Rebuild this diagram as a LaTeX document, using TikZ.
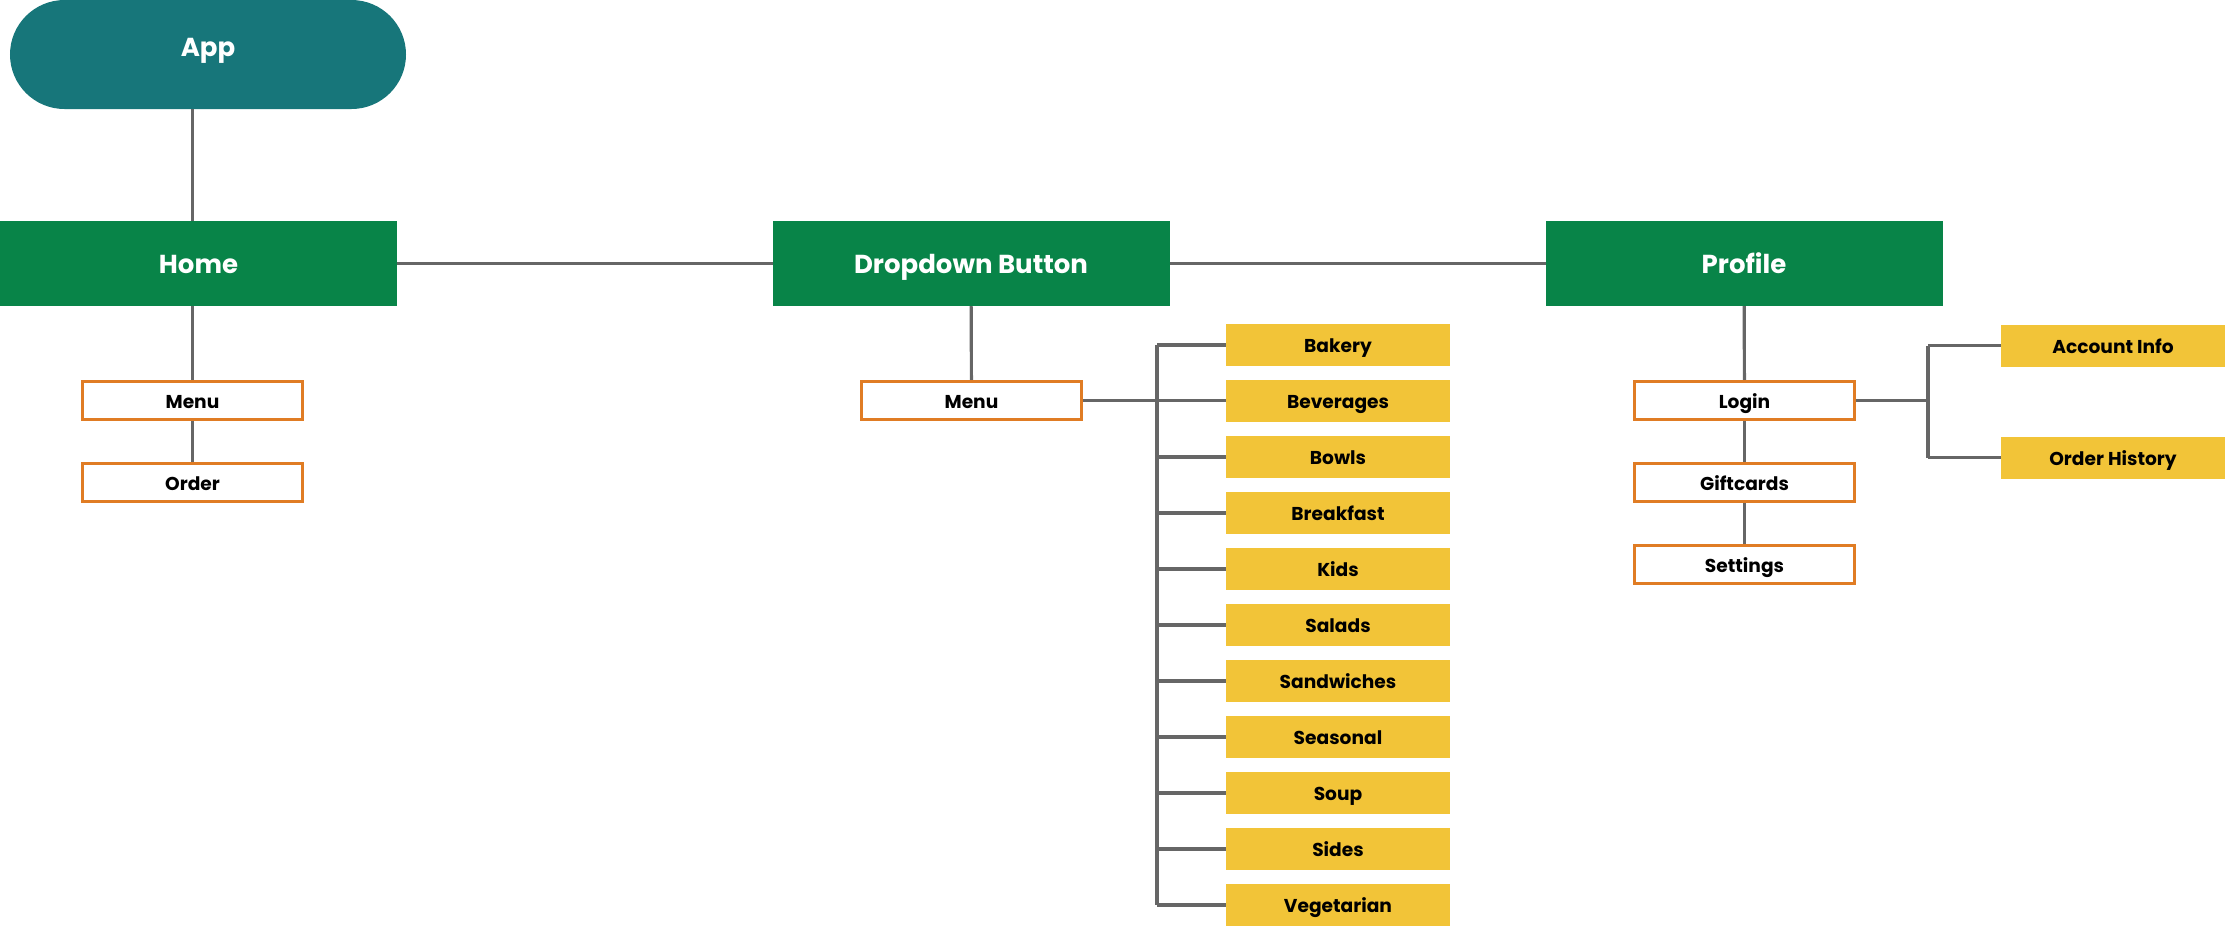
\documentclass[tikz,border=0pt]{standalone}
\usepackage{fontspec}
\setmainfont{Poppins}
\usepackage{xcolor}
\usepackage{tikz}
\usetikzlibrary{positioning}

\definecolor{appteal}{RGB}{23,118,122}
\definecolor{homegreen}{RGB}{8,132,72}
\definecolor{boxorange}{RGB}{224,124,36}
\definecolor{itemyellow}{RGB}{242,196,56}
\definecolor{linegray}{RGB}{102,102,102}

\begin{document}
\begin{tikzpicture}[
    node distance=0.41cm and 1cm,
    appnode/.style={rectangle, rounded corners=0.545cm, fill=appteal, minimum width=3.96cm, minimum height=1.09cm, text=white, font=\bfseries\fontsize{7.4}{9}\selectfont, inner ysep=0pt, text height=4.2pt, text depth=2.8pt, outer sep=0pt},
    mainbox/.style={rectangle, fill=homegreen, minimum width=3.97cm, minimum height=0.85cm, text=white, font=\bfseries\fontsize{7.4}{9}\selectfont, inner ysep=0pt, text height=6.2pt, text depth=0.8pt, outer sep=0pt},
    pagebox/.style={rectangle, draw=boxorange, line width=0.9pt, fill=white, minimum width=2.2cm, minimum height=0.38cm, font=\bfseries\fontsize{5.3}{6}\selectfont, inner ysep=0pt, text height=4.8pt, text depth=0.3pt},
    catbox/.style={rectangle, fill=itemyellow, minimum width=2.24cm, minimum height=0.42cm, font=\bfseries\fontsize{5.3}{6}\selectfont, inner ysep=0pt, text height=4.8pt, text depth=0.3pt, outer sep=0pt},
    link/.style={draw=linegray, line width=0.9pt}
]
    \useasboundingbox (0,0) rectangle (22.25,-9.26);

    % top level
    \node (app) [appnode] at (2.08,-0.545) {App};
    \node (home) [mainbox] at (1.985,-2.635) {Home};
    \node (dropdown) [mainbox] at (9.71,-2.635) {Dropdown Button};
    \node (profile) [mainbox] at (17.44,-2.635) {Profile};

    % home pages
    \node (homemenu) [pagebox] at (1.925,-4.005) {Menu};
    \node (order) [pagebox, below=of homemenu] {Order};

    % dropdown menu and categories
    \node (dropmenu) [pagebox] at (9.715,-4.005) {Menu};
    \node (bakery) [catbox] at (13.38,-3.45) {Bakery};
    \node (beverages) [catbox, below=0.14cm of bakery] {Beverages};
    \node (bowls) [catbox, below=0.14cm of beverages] {Bowls};
    \node (breakfast) [catbox, below=0.14cm of bowls] {Breakfast};
    \node (kids) [catbox, below=0.14cm of breakfast] {Kids};
    \node (salads) [catbox, below=0.14cm of kids] {Salads};
    \node (sandwiches) [catbox, below=0.14cm of salads] {Sandwiches};
    \node (seasonal) [catbox, below=0.14cm of sandwiches] {Seasonal};
    \node (soup) [catbox, below=0.14cm of seasonal] {Soup};
    \node (sides) [catbox, below=0.14cm of soup] {Sides};
    \node (vegetarian) [catbox, below=0.14cm of sides] {Vegetarian};

    % profile pages
    \node (login) [pagebox] at (17.445,-4.005) {Login};
    \node (giftcards) [pagebox, below=of login] {Giftcards};
    \node (settings) [pagebox, below=of giftcards] {Settings};
    \node (account) [catbox] at (21.13,-3.455) {Account Info};
    \node (history) [catbox] at (21.13,-4.575) {Order History};

    \coordinate (catbus) at (11.57,-4.0);
    \coordinate (acctbus) at (19.28,-4.0);

    % connectors
    \draw [link] (app.south -| homemenu) -- (home.north -| homemenu);
    \draw [link] (home) -- (dropdown);
    \draw [link] (dropdown) -- (profile);
    \draw [link] (home.south -| homemenu) -- (homemenu);
    \draw [link] (homemenu) -- (order);

    \draw [link] (dropdown) -- (dropmenu);
    \draw [link] (dropmenu) -- (dropmenu -| beverages.west);
    \draw [link] (catbus |- bakery) -- (catbus |- vegetarian);
    \draw [link] (catbus |- bakery) -- (bakery)
                 (catbus |- bowls) -- (bowls)
                 (catbus |- breakfast) -- (breakfast)
                 (catbus |- kids) -- (kids)
                 (catbus |- salads) -- (salads)
                 (catbus |- sandwiches) -- (sandwiches)
                 (catbus |- seasonal) -- (seasonal)
                 (catbus |- soup) -- (soup)
                 (catbus |- sides) -- (sides)
                 (catbus |- vegetarian) -- (vegetarian);

    \draw [link] (profile) -- (login);
    \draw [link] (login) -- (giftcards);
    \draw [link] (giftcards) -- (settings);
    \draw [link] (login) -- (acctbus |- login);
    \draw [link] (acctbus |- account) -- (acctbus |- history);
    \draw [link] (acctbus |- account) -- (account);
    \draw [link] (acctbus |- history) -- (history);
\end{tikzpicture}
\end{document}
